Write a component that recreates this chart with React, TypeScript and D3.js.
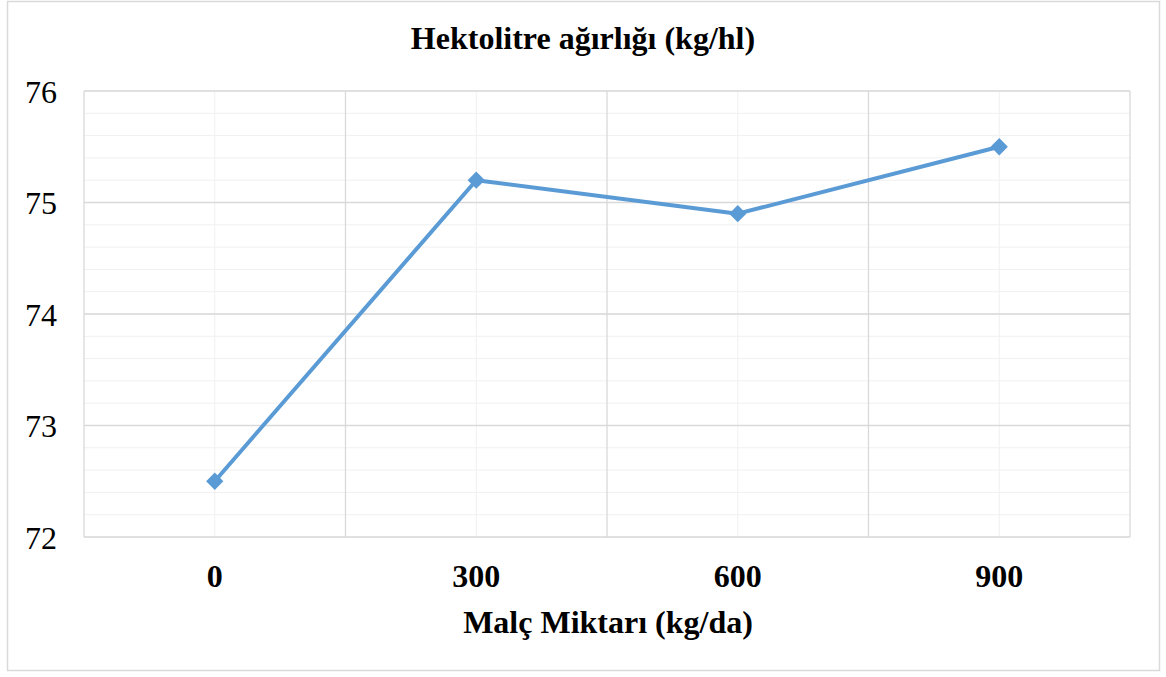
import React from "react";
import * as d3 from "d3";

const categories: string[] = ["0", "300", "600", "900"];
const values: number[] = [72.5, 75.2, 74.9, 75.5];
const yTicks: number[] = [72, 73, 74, 75, 76];
const title = "Hektolitre ağırlığı (kg/hl)";
const xTitle = "Malç Miktarı (kg/da)";

const W = 1166;
const H = 677;
const plot = { left: 84, right: 1130, top: 91, bottom: 537 };
const FONT = "'Liberation Serif', 'Times New Roman', serif";

export default function App() {
  const x = d3
    .scaleBand<string>()
    .domain(categories)
    .range([plot.left, plot.right])
    .paddingInner(0)
    .paddingOuter(0);
  const y = d3.scaleLinear().domain([72, 76]).range([plot.bottom, plot.top]);

  const minorY = d3.range(72, 76.0001, 0.2).map((v) => +v.toFixed(1));
  const boundaries = categories.map((c) => x(c)!).concat([x.range()[1]]);
  const centers = categories.map((c) => x(c)! + x.bandwidth() / 2);

  const line = d3
    .line<number>()
    .x((_, i) => centers[i])
    .y((d) => y(d));

  const diamond = d3.symbol().type(d3.symbolDiamond2).size(190)();

  return (
    <svg
      width={W}
      height={H}
      style={{ position: "absolute", left: 0, top: 0, background: "#fff" }}
    >
      <rect x={7.5} y={1.5} width={1152} height={669} fill="#fff" stroke="#d9d9d9" strokeWidth={1.5} />
      {minorY.map((v, i) => (
        <line key={"mh" + i} x1={plot.left} x2={plot.right} y1={y(v)} y2={y(v)} stroke="#f0f0f0" strokeWidth={1} />
      ))}
      {centers.map((cx, i) => (
        <line key={"mv" + i} x1={cx} x2={cx} y1={plot.top} y2={plot.bottom} stroke="#f0f0f0" strokeWidth={1} />
      ))}
      {yTicks.map((v) => (
        <line key={"h" + v} x1={plot.left} x2={plot.right} y1={y(v)} y2={y(v)} stroke="#d9d9d9" strokeWidth={1.3} />
      ))}
      {boundaries.map((bx, i) => (
        <line key={"v" + i} x1={bx} x2={bx} y1={plot.top} y2={plot.bottom} stroke="#d9d9d9" strokeWidth={1.3} />
      ))}
      <path d={line(values) || ""} fill="none" stroke="#5b9bd5" strokeWidth={4} strokeLinejoin="round" />
      {values.map((v, i) => (
        <path key={"m" + i} d={diamond || ""} transform={`translate(${centers[i]},${y(v)})`} fill="#5b9bd5" />
      ))}
      {yTicks.map((v) => (
        <text key={"yl" + v} x={57} y={y(v) + 11.5} textAnchor="end" fontFamily={FONT} fontSize={32} fill="#000">
          {v}
        </text>
      ))}
      {categories.map((c, i) => (
        <text key={"xl" + c} x={centers[i]} y={587} textAnchor="middle" fontFamily={FONT} fontSize={32} fontWeight="bold" fill="#000">
          {c}
        </text>
      ))}
      <text x={583} y={49} textAnchor="middle" fontFamily={FONT} fontSize={32} fontWeight="bold" fill="#000">
        {title}
      </text>
      <text x={608} y={633} textAnchor="middle" fontFamily={FONT} fontSize={32} fontWeight="bold" fill="#000">
        {xTitle}
      </text>
    </svg>
  );
}
